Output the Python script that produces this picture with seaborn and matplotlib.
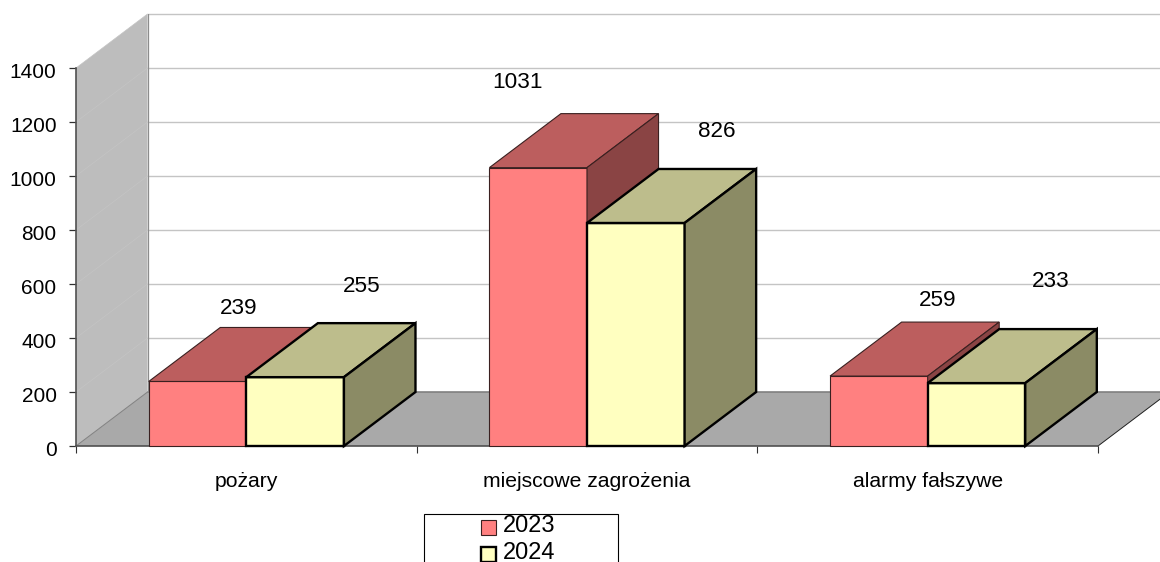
import pandas as pd
import matplotlib.pyplot as plt
from matplotlib.patches import Polygon, Rectangle
from matplotlib.transforms import ScaledTranslation
import seaborn as sns

# Data
categories = ["pożary", "miejscowe zagrożenia", "alarmy fałszywe"]
values_2023 = [239, 1031, 259]
values_2024 = [255, 826, 233]
years = ["2023", "2024"]

# hand placed label offsets from bar top, pixels
label_dx = [[41, -21, 59], [67, 81, 74]]
label_dy = [[73, 85, 76], [91, 91, 102]]

front_colors = ["#FF8080", "#FFFFC0"]
top_colors = ["#BC5E5E", "#BDBD8C"]
side_colors = ["#8A4444", "#8B8B65"]
edge_colors = ["#3A2020", "#000000"]
edge_widths = [0.8, 1.7]

# 3D depth of the box, in axis units
depth_x = 0.21
depth_y = 200

df = pd.DataFrame({
    "category": categories * 2,
    "value": values_2023 + values_2024,
    "year": [years[0]] * 3 + [years[1]] * 3,
})

sns.set_theme(style="white")
plt.rcParams["font.family"] = ["Liberation Sans", "DejaVu Sans"]

fig = plt.figure(figsize=(11.6, 5.62), dpi=100)
ax = fig.add_axes([76 / 1160, 116 / 562, 1022 / 1160, 378 / 562])
ax.patch.set_visible(False)

sns.barplot(data=df, x="category", y="value", hue="year", order=categories,
            palette=front_colors, saturation=1, width=0.573, gap=0, ax=ax,
            legend=False)

ax.set_xlim(-0.5, 2.5)
ax.set_ylim(0, 1400)
ax.set_xlabel("")
ax.set_ylabel("")

x0, x1 = -0.5, 2.5
yticks = list(range(0, 1401, 200))

# -------------------------
# WALLS AND FLOOR
# -------------------------
ax.add_patch(Polygon([(x0, 0), (x0, 1400), (x0 + depth_x, 1400 + depth_y), (x0 + depth_x, depth_y)],
                     facecolor="#BDBDBD", edgecolor="none", zorder=0.5, clip_on=False))
ax.add_patch(Polygon([(x0, 0), (x0 + depth_x, depth_y), (x1 + depth_x, depth_y), (x1, 0)],
                     facecolor="#A9A9A9", edgecolor="none", zorder=0.6, clip_on=False))
for y in yticks[1:]:
    ax.plot([x0 + depth_x, x1 + depth_x], [y + depth_y, y + depth_y], color="#C4C4C4", lw=1.0,
            zorder=0.4, clip_on=False)
    ax.plot([x0, x0 + depth_x], [y, y + depth_y], color="#C4C4C4", lw=0.5, zorder=0.55, clip_on=False)
ax.plot([x0 + depth_x, x1 + depth_x], [depth_y, depth_y], color="#808080", lw=1.2, zorder=0.7, clip_on=False)
ax.plot([x0 + depth_x, x0 + depth_x], [depth_y, 1400 + depth_y], color="#8C8C8C", lw=0.9, zorder=0.7, clip_on=False)
ax.plot([x0, x0 + depth_x], [0, depth_y], color="#808080", lw=0.7, zorder=0.7, clip_on=False)
ax.plot([x1, x1 + depth_x], [0, depth_y], color="#202020", lw=0.7, zorder=0.7, clip_on=False)

# -------------------------
# BOXES
# -------------------------
for i, container in enumerate(ax.containers):
    for j, bar in enumerate(container):
        left = bar.get_x()
        right = left + bar.get_width()
        top = bar.get_height()
        style = dict(edgecolor=edge_colors[i], linewidth=edge_widths[i], zorder=3 + i,
                     joinstyle="miter", clip_on=False)
        bar.set(edgecolor=edge_colors[i], linewidth=edge_widths[i], zorder=3 + i, clip_on=False)
        ax.add_patch(Polygon([(left, top), (left + depth_x, top + depth_y),
                              (right + depth_x, top + depth_y), (right, top)],
                             facecolor=top_colors[i], **style))
        ax.add_patch(Polygon([(right, 0), (right, top), (right + depth_x, top + depth_y),
                              (right + depth_x, depth_y)],
                             facecolor=side_colors[i], **style))
        ax.annotate(str(int(top)), xy=((left + right) / 2, top),
                    xytext=(label_dx[i][j], label_dy[i][j]), textcoords="offset pixels",
                    ha="center", va="center", fontsize=16.2, color="black",
                    zorder=6, annotation_clip=False)

# -------------------------
# AXES
# -------------------------
sns.despine(ax=ax, top=True, right=True)
for side in ["left", "bottom"]:
    ax.spines[side].set_color("#505050")
    ax.spines[side].set_linewidth(1.2)
    ax.spines[side].set_zorder(2.5)

ax.set_yticks(yticks)
ax.set_xticks([-0.5, 0.5, 1.5, 2.5], minor=True)
ax.tick_params(axis="y", which="major", left=True, length=5, width=0.9, color="#303030",
               pad=9, labelsize=15, labelcolor="black")
ax.tick_params(axis="x", which="major", bottom=False, pad=12.5, labelsize=15.2, labelcolor="black")
ax.tick_params(axis="x", which="minor", bottom=True, length=5, width=0.8, color="#303030")

shift = ScaledTranslation(0, -3 / 100, fig.dpi_scale_trans)
for label in ax.get_yticklabels():
    label.set_transform(label.get_transform() + shift)

# -------------------------
# LEGEND (box runs off the bottom of the picture)
# -------------------------
fig.add_artist(Rectangle((423.5 / 1160, -20 / 562), 194 / 1160, (48 + 20) / 562,
                         transform=fig.transFigure, facecolor="white", edgecolor="black", linewidth=0.8))
for i, year in enumerate(years):
    y_px = 527 + 27 * i
    fig.add_artist(Rectangle((481 / 1160, 1 - (y_px + 8) / 562), 15 / 1160, 15 / 562,
                             transform=fig.transFigure, facecolor=front_colors[i],
                             edgecolor=edge_colors[i], linewidth=edge_widths[i]))
    fig.text(503 / 1160, 1 - (y_px - 1) / 562, year, ha="left", va="center", fontsize=17, color="black")

plt.savefig("out.png", dpi=100)
